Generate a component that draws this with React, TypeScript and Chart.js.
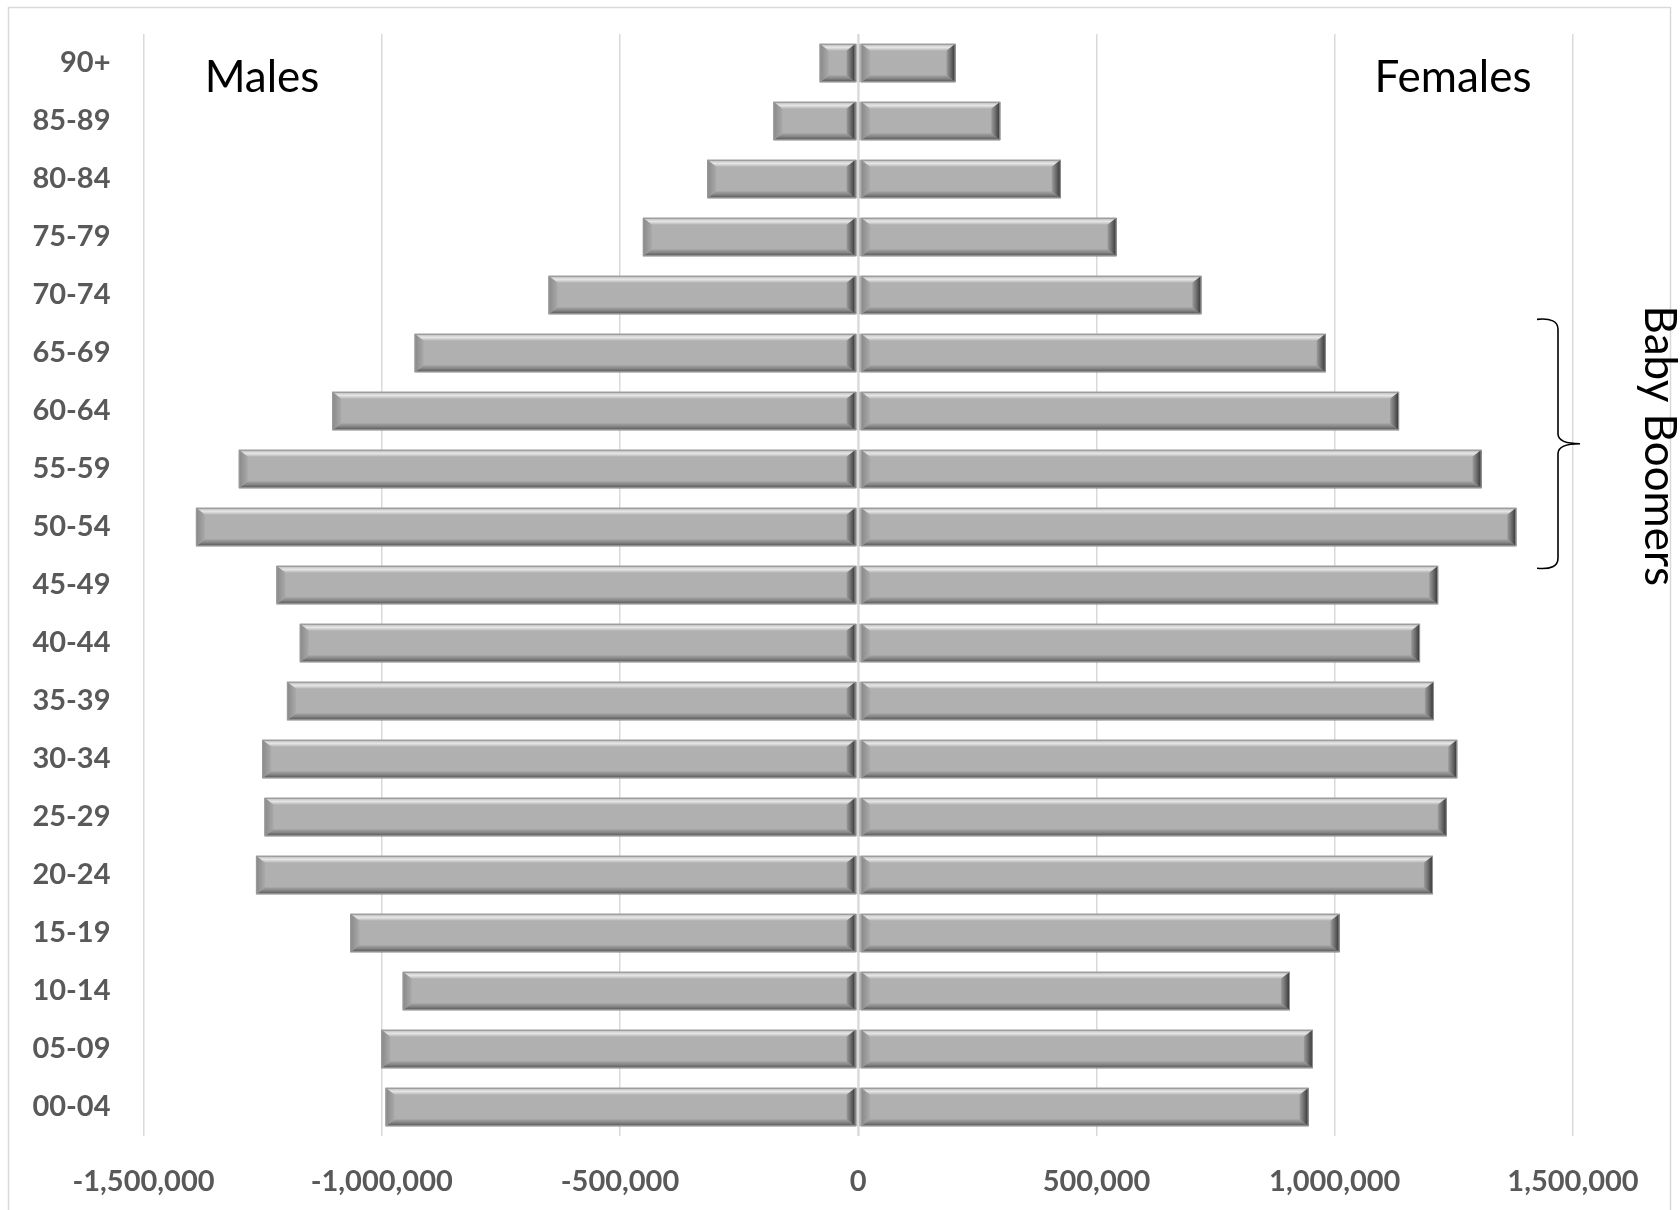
import React, { useEffect, useRef } from "react";
import { Chart, registerables } from "chart.js";

Chart.register(...registerables);

const ageGroups = [
  "90+", "85-89", "80-84", "75-79", "70-74", "65-69", "60-64", "55-59", "50-54",
  "45-49", "40-44", "35-39", "30-34", "25-29", "20-24", "15-19", "10-14", "05-09", "00-04",
];

const males = [
  -81000, -178000, -317000, -452000, -650000, -931000, -1104000, -1300000, -1390000,
  -1221000, -1172000, -1199000, -1251000, -1246000, -1264000, -1066000, -956000, -1001000, -992000,
];

const females = [
  204000, 298000, 425000, 542000, 720000, 981000, 1135000, 1308000, 1381000,
  1217000, 1179000, 1208000, 1257000, 1235000, 1206000, 1010000, 906000, 954000, 945000,
];

const xTickValues = [-1500000, -1000000, -500000, 0, 500000, 1000000, 1500000];

const boomerFirst = "65-69";
const boomerLast = "50-54";

const W = 1680;
const H = 1210;

function poly(ctx: CanvasRenderingContext2D, pts: number[][], fill: any) {
  ctx.beginPath();
  ctx.moveTo(pts[0][0], pts[0][1]);
  for (let i = 1; i < pts.length; i++) ctx.lineTo(pts[i][0], pts[i][1]);
  ctx.closePath();
  ctx.fillStyle = fill;
  ctx.fill();
}

function drawBevel(ctx: CanvasRenderingContext2D, l: number, t: number, r: number, b: number) {
  const bw = Math.min(9, (r - l) / 2);
  const bh = 7;
  // top bevel
  const gT = ctx.createLinearGradient(0, t, 0, t + bh);
  gT.addColorStop(0, "#a0a0a0");
  gT.addColorStop(0.2, "#c8c8c8");
  gT.addColorStop(0.5, "#e6e6e6");
  gT.addColorStop(0.75, "#cecece");
  gT.addColorStop(1, "#b3b3b3");
  poly(ctx, [[l, t], [r, t], [r - bw, t + bh], [l + bw, t + bh]], gT);
  // bottom bevel
  const gB = ctx.createLinearGradient(0, b - bh, 0, b);
  gB.addColorStop(0, "#a6a6a6");
  gB.addColorStop(0.45, "#888888");
  gB.addColorStop(0.8, "#666666");
  gB.addColorStop(1, "#5a5a5a");
  poly(ctx, [[l + bw, b - bh], [r - bw, b - bh], [r, b], [l, b]], gB);
  // left bevel
  const gL = ctx.createLinearGradient(l, 0, l + bw, 0);
  gL.addColorStop(0, "#888888");
  gL.addColorStop(1, "#a9a9a9");
  poly(ctx, [[l, t], [l + bw, t + bh], [l + bw, b - bh], [l, b]], gL);
  // right bevel
  const gR = ctx.createLinearGradient(r - bw, 0, r, 0);
  gR.addColorStop(0, "#9c9c9c");
  gR.addColorStop(0.5, "#6a6a6a");
  gR.addColorStop(1, "#303030");
  poly(ctx, [[r - bw, t + bh], [r, t], [r, b], [r - bw, b - bh]], gR);
  // outline
  ctx.strokeStyle = "#9a9a9a";
  ctx.lineWidth = 1;
  ctx.strokeRect(l + 0.5, t + 0.5, r - l - 1, b - t - 1);
}

const bevelPlugin = {
  id: "bevel",
  beforeDraw(chart: any) {
    const ctx = chart.ctx as CanvasRenderingContext2D;
    ctx.save();
    ctx.fillStyle = "#ffffff";
    ctx.fillRect(0, 0, chart.width, chart.height);
    ctx.strokeStyle = "#d9d9d9";
    ctx.lineWidth = 1.5;
    ctx.strokeRect(8.5, 7.5, 1662, chart.height + 10);
    ctx.restore();
  },
  afterDatasetsDraw(chart: any) {
    const ctx = chart.ctx as CanvasRenderingContext2D;
    ctx.save();
    chart.data.datasets.forEach((_ds: any, di: number) => {
      const meta = chart.getDatasetMeta(di);
      meta.data.forEach((el: any) => {
        const p = el.getProps(["x", "y", "base", "height"], true);
        const l = Math.min(p.x, p.base);
        const r = Math.max(p.x, p.base);
        const t = p.y - p.height / 2;
        const b = p.y + p.height / 2;
        drawBevel(ctx, di === 0 ? l : l + 2, t, di === 0 ? r - 2 : r, b);
      });
    });
    const xs = chart.scales.x;
    const x0 = xs.getPixelForValue(0);
    ctx.fillStyle = "#d9d9d9";
    ctx.fillRect(x0 - 1, chart.chartArea.top, 2, chart.chartArea.bottom - chart.chartArea.top);
    ctx.restore();
  },
  afterDraw(chart: any) {
    const ctx = chart.ctx as CanvasRenderingContext2D;
    const area = chart.chartArea;
    const ys = chart.scales.y;
    const xs = chart.scales.x;
    ctx.save();
    ctx.fillStyle = "#000000";
    ctx.font = "44px Lato";
    ctx.textBaseline = "alphabetic";
    ctx.textAlign = "center";
    ctx.fillText("Males", area.left + 118.5, 92);
    ctx.fillText("Females", area.right - 120, 92);

    // brace
    const step = ys.getPixelForValue(1) - ys.getPixelForValue(0);
    const top = ys.getPixelForValue(ageGroups.indexOf(boomerFirst)) - 0.58 * step;
    const bot = ys.getPixelForValue(ageGroups.indexOf(boomerLast)) + 0.71 * step;
    const mid = (top + bot) / 2;
    const xl = xs.getPixelForValue(1500000) - 15;
    ctx.strokeStyle = "#000000";
    ctx.lineWidth = 1.6;
    ctx.beginPath();
    ctx.moveTo(xl - 21, top);
    ctx.quadraticCurveTo(xl, top - 2, xl, top + 10);
    ctx.lineTo(xl, mid - 10);
    ctx.quadraticCurveTo(xl, mid, xl + 22, mid);
    ctx.moveTo(xl + 22, mid);
    ctx.quadraticCurveTo(xl, mid, xl, mid + 10);
    ctx.lineTo(xl, bot - 10);
    ctx.quadraticCurveTo(xl, bot + 2, xl - 21, bot);
    ctx.stroke();

    // rotated label
    ctx.translate(1645, mid + 2);
    ctx.rotate(Math.PI / 2);
    ctx.textAlign = "center";
    ctx.textBaseline = "alphabetic";
    ctx.font = "44px Lato";
    ctx.fillText("Baby Boomers", 0, 0);
    ctx.restore();
  },
};

export default function App() {
  const ref = useRef<HTMLCanvasElement | null>(null);

  useEffect(() => {
    let chart: Chart | null = null;
    let cancelled = false;
    const make = () => {
      if (cancelled || !ref.current) return;
      chart = new Chart(ref.current, {
        type: "bar",
        data: {
          labels: ageGroups,
          datasets: [
            {
              label: "Males",
              data: males,
              backgroundColor: "#b0b0b0",
              borderWidth: 0,
              barPercentage: 0.66,
              categoryPercentage: 1,
            },
            {
              label: "Females",
              data: females,
              backgroundColor: "#b0b0b0",
              borderWidth: 0,
              barPercentage: 0.66,
              categoryPercentage: 1,
            },
          ],
        },
        options: {
          indexAxis: "y",
          responsive: false,
          animation: false,
          devicePixelRatio: 1,
          layout: { padding: { top: 34, right: 107, left: 0, bottom: 0 } },
          plugins: {
            legend: { display: false },
            tooltip: { enabled: false },
          },
          scales: {
            x: {
              type: "linear",
              stacked: true,
              min: -1500000,
              max: 1500000,
              afterBuildTicks: (scale: any) => {
                scale.ticks = xTickValues.map((v) => ({ value: v }));
              },
              afterFit: (scale: any) => {
                scale.height = 74;
                scale.paddingLeft = 0;
                scale.paddingRight = 0;
                scale.paddingTop = 0;
                scale.paddingBottom = 0;
              },
              ticks: {
                color: "#595959",
                font: { family: "Lato", weight: "bold", size: 29 },
                padding: 28,
                maxRotation: 0,
                autoSkip: false,
                callback: (v: any) => Number(v).toLocaleString("en-US"),
              },
              grid: { color: "#d9d9d9", lineWidth: 1.5, drawTicks: false },
              border: { display: false },
            },
            y: {
              type: "category",
              stacked: true,
              afterFit: (scale: any) => {
                scale.width = 143.5;
                scale.paddingLeft = 0;
                scale.paddingRight = 0;
                scale.paddingTop = 0;
                scale.paddingBottom = 0;
              },
              ticks: {
                color: "#595959",
                font: { family: "Lato", weight: "bold", size: 29 },
                padding: 33,
                autoSkip: false,
              },
              grid: { display: false, drawTicks: false },
              border: { display: false },
            },
          },
        },
        plugins: [bevelPlugin],
      } as any);
    };
    const fonts = (document as any).fonts;
    if (fonts && fonts.load) {
      Promise.all([
        fonts.load("bold 29px Lato"),
        fonts.load("44px Lato"),
      ]).then(make, make);
    } else {
      make();
    }
    return () => {
      cancelled = true;
      if (chart) chart.destroy();
    };
  }, []);

  return (
    <div style={{ position: "absolute", left: 0, top: 0, width: W, height: H, background: "#fff" }}>
      <canvas ref={ref} width={W} height={H} style={{ display: "block", width: W, height: H }} />
    </div>
  );
}
